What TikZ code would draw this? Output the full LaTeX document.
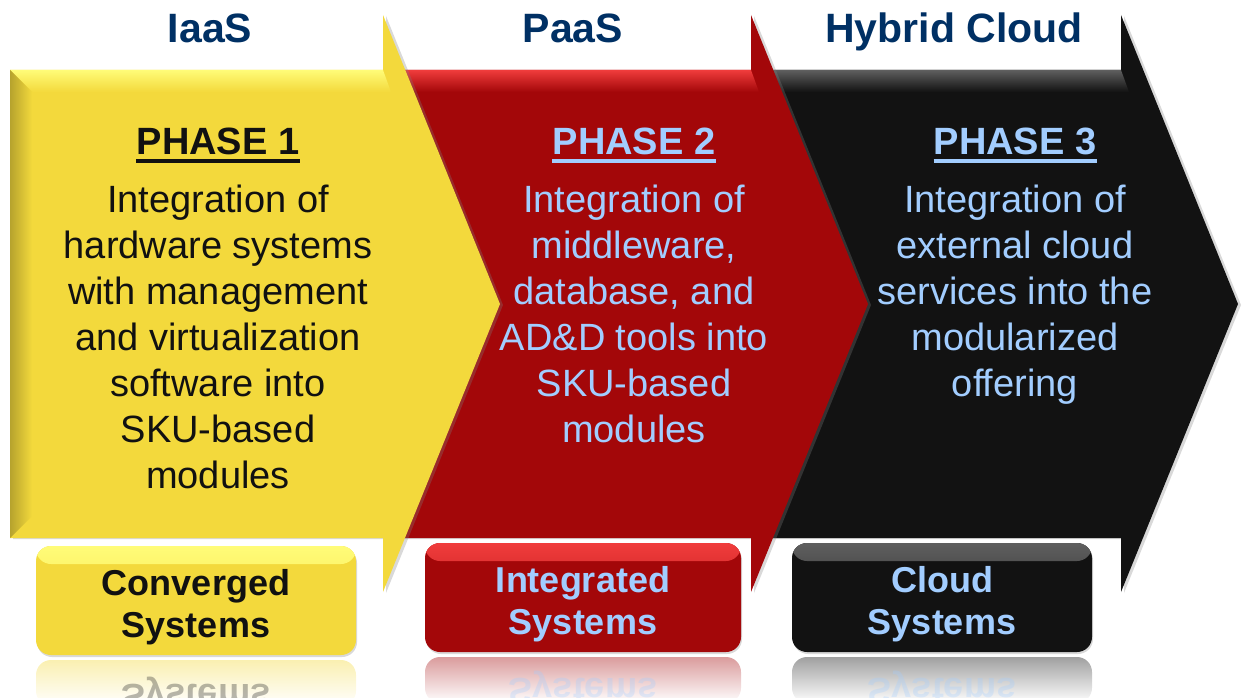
\documentclass[tikz,border=0pt]{standalone}
\usepackage{fontspec}
\setmainfont{Liberation Sans}
\usetikzlibrary{shadows}
\definecolor{navy}{RGB}{0,48,100}
\definecolor{textblack}{RGB}{17,17,17}
\definecolor{skyblue}{RGB}{162,205,255}
\definecolor{baseyellow}{RGB}{243,217,60}
\definecolor{hiyellow}{RGB}{255,252,120}
\definecolor{basered}{RGB}{163,7,9}
\definecolor{hired}{RGB}{240,60,60}
\definecolor{baseblack}{RGB}{18,18,18}
\definecolor{hiblack}{RGB}{95,95,95}

\begin{document}
\begin{tikzpicture}[x=1pt, y=-1pt,
  title/.style={font=\fontsize{41}{48}\selectfont\bfseries, text=navy, anchor=base, inner sep=0pt},
  phase/.style={font=\fontsize{38}{46}\selectfont\bfseries, anchor=base, inner sep=0pt},
  body/.style={font=\fontsize{38}{46}\selectfont, align=center, anchor=base, inner sep=0pt},
  box/.style={rounded corners=15pt, minimum height=109pt, inner sep=0pt, align=center, text height=73pt, text depth=0pt,
    font=\fontsize{36}{42}\selectfont\bfseries, fill=base#1,
    drop shadow={opacity=0.3, shadow xshift=1pt, shadow yshift=-2pt},
    path picture={\shade[top color=hi#1, bottom color=base#1] (path picture bounding box.north west) rectangle ([yshift=-18pt]path picture bounding box.north east);}},
  mirror/.style={font=\fontsize{36}{42}\selectfont\bfseries, yscale=-1, anchor=base, inner sep=0pt, opacity=0.3}]
\useasboundingbox (0,0) rectangle (1243,698);

% arrows, back to front
\foreach \xa/\xb/\col in {751/1121/black, 383/751/red, 10/383/yellow} {
  \fill[base\col, drop shadow={opacity=0.3, shadow xshift=3pt, shadow yshift=-1pt}]
    (\xa,70) -- (\xb,70) -- (\xb,15) -- (\xb+117,304) -- (\xb,592) -- (\xb,538) -- (\xa,538) -- cycle;
  \shade[top color=hi\col, bottom color=base\col]
    (\xa,70) -- (\xb,70) -- (\xb+8,92) -- (\xa+22,92) -- cycle;
}
\shade[left color=baseyellow!75!black, right color=baseyellow] (10,70) -- (32,92) -- (32,516) -- (10,538) -- cycle;

% headings
\node[title] (iaas) at (210,43) {IaaS};
\node[title] (paas) at (573,43) {PaaS};
\node[title] (hybrid) at (954,43) {Hybrid Cloud};

\node[phase, text=textblack] (phase1) at (218,155) {PHASE 1};
\node[phase, text=skyblue] (phase2) at (634,155) {PHASE 2};
\node[phase, text=skyblue] (phase3) at (1015,155) {PHASE 3};
\draw[textblack, line width=3.5pt] ([yshift=-6pt]phase1.base west) -- ([yshift=-6pt]phase1.base east);
\draw[skyblue, line width=3.5pt] ([yshift=-6pt]phase2.base west) -- ([yshift=-6pt]phase2.base east);
\draw[skyblue, line width=3.5pt] ([yshift=-6pt]phase3.base west) -- ([yshift=-6pt]phase3.base east);

% base anchor = last line
\node[body, text=textblack] (body1) at (218,488) {Integration of\\hardware systems\\with management\\and virtualization\\software into\\SKU-based\\modules};
\node[body, text=skyblue] (body2) at (634,442) {Integration of\\middleware,\\database, and\\AD\&D tools into\\SKU-based\\modules};
\node[body, text=skyblue] (body3) at (1015,396) {Integration of\\external cloud\\services into the\\modularized\\offering};

% reflections
\foreach \cx/\w/\ty/\col/\tcol in {196/320/660/yellow/textblack, 583/316/657/red/skyblue, 942/300/657/black/skyblue} {
  \shade[top color=base\col!40!white, bottom color=white, rounded corners=15pt] (\cx-\w/2,\ty) rectangle (\cx+\w/2,\ty+46);
  \node[mirror, text=\tcol] (refl\col) at (\cx,2*\ty-636) {Systems};
}

% system boxes
\node[box=yellow, minimum width=320pt, text=textblack] (converged) at (196,600.5) {Converged\\Systems};
\node[box=red, minimum width=316pt, text=skyblue] (integrated) at (583,597.5) {Integrated\\Systems};
\node[box=black, minimum width=300pt, text=skyblue] (cloudsys) at (942,597.5) {Cloud\\Systems};
\end{tikzpicture}
\end{document}
